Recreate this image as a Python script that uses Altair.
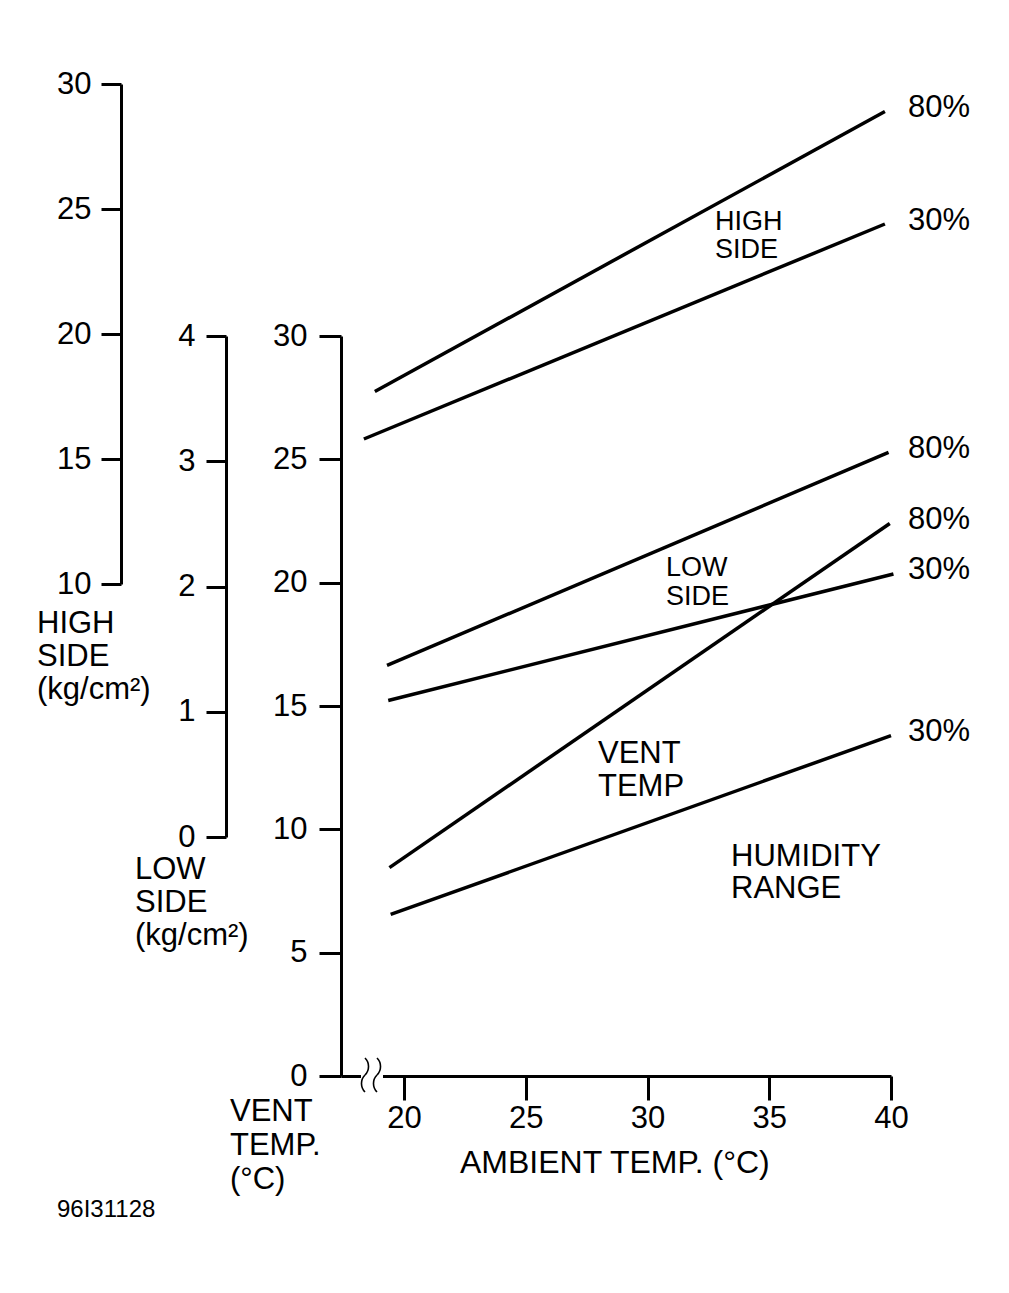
import math
import altair as alt
import pandas as pd

FONT = "Liberation Sans"

# ---- tick labels ----
ambient_ticks = [20, 25, 30, 35, 40]
high_ticks = [10, 15, 20, 25, 30]
low_ticks = [0, 1, 2, 3, 4]
vent_ticks = [0, 5, 10, 15, 20, 25, 30]

# ---- series (ambient temp °C -> value) ----
high_amb_80 = [18.8, 39.75]
high_80 = [17.7, 28.9]
high_amb_30 = [18.35, 39.75]
high_30 = [15.8, 24.4]

low_amb_80 = [19.3, 39.9]
low_80 = [1.37, 3.07]
low_amb_30 = [19.35, 40.1]
low_30 = [1.09, 2.10]

vent_amb_80 = [19.4, 39.95]
vent_80 = [8.45, 22.4]
vent_amb_30 = [19.45, 40.0]
vent_30 = [6.55, 13.8]


def series(amb80, v80, amb30, v30):
    return pd.DataFrame({
        "ambient": amb80 + amb30,
        "value": v80 + v30,
        "humidity": ["80%"] * len(amb80) + ["30%"] * len(amb30),
    })


df_high = series(high_amb_80, high_80, high_amb_30, high_30)
df_low = series(low_amb_80, low_80, low_amb_30, low_30)
df_vent = series(vent_amb_80, vent_80, vent_amb_30, vent_30)

# plot-area origin on the page
OX, OY = 341, 84

x_enc = alt.X(
    "ambient:Q",
    scale=alt.Scale(domain=[17.41, 40], nice=False, zero=False),
    axis=alt.Axis(values=ambient_ticks, title=None, tickSize=24, labelPadding=3,
                  labelFont=FONT, labelFontSize=31, labelColor="black",
                  domainColor="black", domainWidth=3, tickColor="black", tickWidth=3,
                  grid=False, labelFlush=False),
)


def group(df, domain, rng, ticks, offset, tick_size, pad):
    y = alt.Y(
        "value:Q",
        scale=alt.Scale(domain=domain, range=rng, nice=False, zero=False),
        axis=alt.Axis(values=ticks, orient="left", offset=offset, title=None,
                      tickSize=tick_size, labelPadding=pad, labelFont=FONT,
                      labelFontSize=31, labelColor="black", domainColor="black",
                      domainWidth=3, tickColor="black", tickWidth=3, grid=False,
                      labelFlush=False, labelOverlap=False),
    )
    line = alt.Chart(df).mark_line(color="black", strokeWidth=3.5, strokeCap="butt").encode(
        x=x_enc, y=y, detail="humidity:N"
    )
    ends = df.groupby("humidity", sort=False).tail(1)
    labels = alt.Chart(ends).mark_text(
        align="left", baseline="middle", dy=-3.5, font=FONT, fontSize=31, color="black"
    ).encode(x=alt.value(908 - OX), y=y, text="humidity:N")
    return alt.layer(line, labels)


high = group(df_high, [10, 30], [500, 0], high_ticks, OX - 121, 20, 10)
low = group(df_low, [0, 4], [753, 252], low_ticks, OX - 226, 20, 11)
vent = group(df_vent, [0, 30], [992, 252], vent_ticks, 0, 22, 12)

one = pd.DataFrame({"k": [0]})


def ann(text, px, py, size=31, lh=33, font=FONT, align="left"):
    # py is the centre of the first line
    return alt.Chart(one).mark_text(
        align=align, baseline="middle", font=font, fontSize=size, lineHeight=lh, color="black"
    ).encode(x=alt.value(px - OX), y=alt.value(py - OY), text=alt.value(text))


# axis break on the ambient axis: white gap + two thin S-waves
gap = alt.Chart(one).mark_rect(color="white").encode(
    x=alt.value(361 - OX), x2=alt.value(383 - OX),
    y=alt.value(1070 - OY), y2=alt.value(1082 - OY),
)


def wave(wx, wy):
    r = 12.0
    d = r * math.sin(math.pi / 4)
    upper = alt.Chart(one).mark_arc(
        theta=math.pi / 4, theta2=3 * math.pi / 4, radius=r + 0.8, radius2=r - 0.8, color="black"
    ).encode(x=alt.value(wx - d - OX), y=alt.value(wy - d - OY))
    lower = alt.Chart(one).mark_arc(
        theta=5 * math.pi / 4, theta2=7 * math.pi / 4, radius=r + 0.8, radius2=r - 0.8, color="black"
    ).encode(x=alt.value(wx + d - OX), y=alt.value(wy + d - OY))
    return [upper, lower]


annotations = [
    gap,
    *wave(365, 1075),
    *wave(377, 1075),
    ann(["HIGH", "SIDE", "(kg/cm²)"], 37, 624),
    ann(["LOW", "SIDE", "(kg/cm²)"], 135, 870),
    ann(["VENT", "TEMP.", "(°C)"], 230, 1112, lh=34),
    ann("AMBIENT TEMP. (°C)", 460, 1163, size=32),
    ann(["HIGH", "SIDE"], 715, 222, size=27, lh=28),
    ann(["LOW", "SIDE"], 666, 568, size=27, lh=29),
    ann(["VENT", "TEMP"], 598, 754),
    ann(["HUMIDITY", "RANGE"], 731, 857, lh=32),
    ann("96I31128", 57, 1210, size=24),
]

chart = alt.layer(high, low, vent, *annotations).resolve_scale(y="independent").properties(
    width=550,
    height=992,
    padding={"left": OX - 8, "top": OY - 8, "right": 110, "bottom": 200},
    autosize=alt.AutoSizeParams(type="none"),
    background="white",
).configure_view(stroke=None)

chart.save("out.html", embed_options={"renderer": "svg", "actions": False})
